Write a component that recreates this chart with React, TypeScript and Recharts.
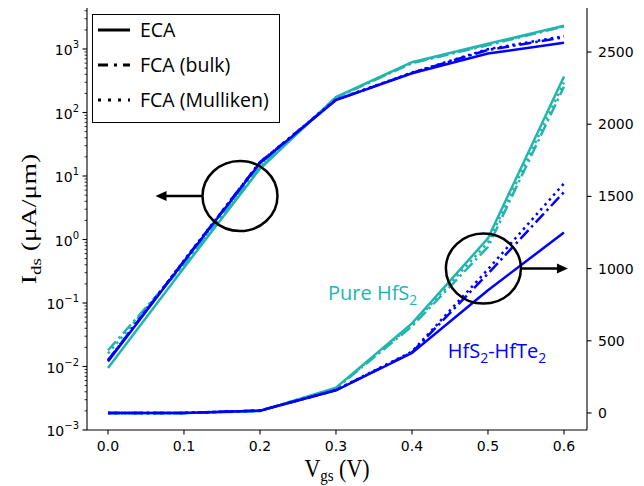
import { LineChart, Line, XAxis, YAxis, Legend, ReferenceDot } from "recharts";

// gate voltage (V)
const vgs = [0, 0.1, 0.2, 0.3, 0.4, 0.5, 0.6];

// Ids (uA/um), pure HfS2
const pureEca = [0.0095, 0.36, 13, 175, 620, 1210, 2330];
const pureBulk = [0.018, 0.4, 14, 170, 600, 1150, 2260];
const pureMull = [0.016, 0.42, 14.5, 172, 610, 1180, 2290];

// Ids (uA/um), HfS2-HfTe2
const hetEca = [0.012, 0.45, 16, 157, 415, 850, 1250];
const hetBulk = [0.0125, 0.46, 16.5, 158, 420, 965, 1530];
const hetMull = [0.0125, 0.47, 16.5, 160, 425, 995, 1590];

const xTicks = [0, 0.1, 0.2, 0.3, 0.4, 0.5, 0.6];
const logMajor = [0.001, 0.01, 0.1, 1, 10, 100, 1000];
const logExp = ["\u22123", "\u22122", "\u22121", "0", "1", "2", "3"];
const minorSteps = [2, 3, 4, 5, 6, 7, 8, 9];
const rightTicks = [0, 500, 1000, 1500, 2000, 2500];
const legendLabels = ["ECA", "FCA (bulk)", "FCA (Mulliken)"];

// annotation anchors, in data units
const leftMark = { x: 0.1737, y: 4.84 };
const rightMark = { x: 0.494, y: 1000 };
const pureLabel = { x: 0.2895, y: 782 };
const hetLabel = { x: 0.447, y: 381 };

const CYAN = "#22b5ae";
const BLUE = "#0000ff";
const DASHDOT = "12 4 2.5 4";
const DOTTED = "2.5 4";

const rows = vgs.map((v, i) => ({
  v,
  pureEca: pureEca[i],
  pureBulk: pureBulk[i],
  pureMull: pureMull[i],
  hetEca: hetEca[i],
  hetBulk: hetBulk[i],
  hetMull: hetMull[i],
}));

const series = [
  { key: "pureEca", color: CYAN, dash: undefined },
  { key: "pureBulk", color: CYAN, dash: DASHDOT },
  { key: "pureMull", color: CYAN, dash: DOTTED },
  { key: "hetEca", color: BLUE, dash: undefined },
  { key: "hetBulk", color: BLUE, dash: DASHDOT },
  { key: "hetMull", color: BLUE, dash: DOTTED },
];

const leftTicks = [
  ...logMajor,
  ...logMajor.flatMap((m) => minorSteps.map((s) => s * m)).filter((t) => t < 4424),
].sort((a, b) => a - b);

const TICK_FONT = "DejaVu Sans";
// axis titles look stretched vertically in the source
const Y_STRETCH = 1.26;
const X_STRETCH = 1.12;

function LeftTick({ x, y, payload }: any) {
  const i = logMajor.indexOf(payload.value);
  const major = i >= 0;
  return (
    <g>
      <line x1={x - (major ? 4.5 : 2.5)} x2={x} y1={y} y2={y} stroke="#000" strokeWidth={major ? 1.1 : 0.8} />
      {major && (
        <text x={x - 8} y={y + 6} textAnchor="end" fontFamily={TICK_FONT} fontSize={14} fill="#000">
          10
          <tspan dy={-7} fontSize={10}>
            {logExp[i]}
          </tspan>
        </text>
      )}
    </g>
  );
}

function RightTick({ x, y, payload }: any) {
  return (
    <g>
      <line x1={x} x2={x + 4.5} y1={y} y2={y} stroke="#000" strokeWidth={1.1} />
      <text x={x + 11} y={y + 5} fontFamily={TICK_FONT} fontSize={14} fill="#000">
        {payload.value}
      </text>
    </g>
  );
}

function BottomTick({ x, y, payload }: any) {
  return (
    <g>
      <line x1={x} x2={x} y1={y} y2={y + 4.5} stroke="#000" strokeWidth={1.1} />
      <text x={x} y={y + 21} textAnchor="middle" fontFamily={TICK_FONT} fontSize={14} fill="#000">
        {payload.value.toFixed(1)}
      </text>
    </g>
  );
}

const renderYLabel = (props: any) => {
  const vb = props.viewBox;
  const cx = 36;
  const cy = vb.y + vb.height / 2;
  return (
    <text
      transform={`translate(${cx} ${cy}) scale(1 ${Y_STRETCH}) rotate(-90)`}
      textAnchor="middle"
      fontFamily="Liberation Serif"
      fontSize={22}
      fill="#000"
    >
      I
      <tspan dy={5} fontSize={15}>
        ds
      </tspan>
      <tspan dy={-5}> (μA/μm)</tspan>
    </text>
  );
};

const renderXLabel = (props: any) => {
  const vb = props.viewBox;
  const cx = vb.x + vb.width / 2;
  return (
    <text
      transform={`translate(${cx} ${vb.y + 47}) scale(1 ${X_STRETCH})`}
      textAnchor="middle"
      fontFamily="Liberation Serif"
      fontSize={22}
      fill="#000"
    >
      V
      <tspan dy={4} fontSize={15}>
        gs
      </tspan>
      <tspan dy={-4}> (V)</tspan>
    </text>
  );
};

const ringWithArrow = (dir: number) => (props: any) => {
  const { cx, cy } = props;
  const rx = 37.5;
  const ry = 35;
  const start = cx + dir * rx;
  const tip = start + dir * 47;
  return (
    <g>
      <ellipse cx={cx} cy={cy} rx={rx} ry={ry} fill="none" stroke="#000" strokeWidth={2.5} />
      <line x1={start} x2={tip - dir * 9} y1={cy} y2={cy} stroke="#000" strokeWidth={2.5} />
      <polygon
        points={`${tip},${cy} ${tip - dir * 11},${cy - 5} ${tip - dir * 11},${cy + 5}`}
        fill="#000"
      />
    </g>
  );
};

const textMark = (color: string, parts: [string, string][]) => (props: any) => {
  const { cx, cy } = props;
  return (
    <text x={cx} y={cy} fontFamily="Open Sans" fontSize={20} fill={color}>
      {parts.map(([main, sub], i) => (
        <tspan key={i}>
          <tspan dy={i === 0 ? 0 : -5}>{main}</tspan>
          {sub && (
            <tspan dy={5} fontSize={14}>
              {sub}
            </tspan>
          )}
        </tspan>
      ))}
    </text>
  );
};

const legendDash = [undefined, "10 6 3 6", "3 7"];

const renderLegend = () => (
  <div
    style={{
      width: 188,
      height: 109,
      border: "1.5px solid #000",
      boxSizing: "border-box",
      background: "#fff",
    }}
  >
    <svg width={185} height={106} style={{ display: "block" }}>
      {legendLabels.map((label, i) => {
        const y = 15 + i * 35;
        return (
          <g key={label}>
            <line x1={5} x2={37} y1={y} y2={y} stroke="#000" strokeWidth={3} strokeDasharray={legendDash[i]} />
            <text x={47} y={y + 7} fontFamily="Open Sans" fontSize={19.5} fill="#000">
              {label}
            </text>
          </g>
        );
      })}
    </svg>
  </div>
);

export default function App() {
  return (
    <>
      <style>{"body{margin:0}"}</style>
      <LineChart width={644} height={486} data={rows} margin={{ top: 8, right: 0, bottom: 0, left: 0 }}>
        <XAxis
          dataKey="v"
          type="number"
          domain={[-0.0276, 0.6303]}
          allowDataOverflow
          ticks={xTicks}
          interval={0}
          height={56}
          tickSize={0}
          tickMargin={0}
          tickLine={false}
          tick={<BottomTick />}
          axisLine={{ stroke: "#000", strokeWidth: 1.1 }}
          label={renderXLabel}
        />
        <XAxis
          xAxisId="top"
          orientation="top"
          type="number"
          domain={[-0.0276, 0.6303]}
          height={0}
          tick={false}
          tickLine={false}
          axisLine={{ stroke: "#000", strokeWidth: 1.1 }}
        />
        <YAxis
          yAxisId="left"
          orientation="left"
          width={87}
          type="number"
          scale="log"
          domain={[0.001, 4424]}
          allowDataOverflow
          ticks={leftTicks}
          interval={0}
          tickSize={0}
          tickMargin={0}
          tickLine={false}
          tick={<LeftTick />}
          axisLine={{ stroke: "#000", strokeWidth: 1.1 }}
          label={renderYLabel}
        />
        <YAxis
          yAxisId="right"
          orientation="right"
          width={57}
          type="number"
          domain={[-118, 2805]}
          allowDataOverflow
          ticks={rightTicks}
          interval={0}
          tickSize={0}
          tickMargin={0}
          tickLine={false}
          tick={<RightTick />}
          axisLine={{ stroke: "#000", strokeWidth: 1.1 }}
        />
        {["left", "right"].flatMap((axis) =>
          series.map((s) => (
            <Line
              key={`${axis}-${s.key}`}
              yAxisId={axis}
              dataKey={s.key}
              type="linear"
              stroke={s.color}
              strokeWidth={2.5}
              strokeDasharray={s.dash}
              dot={false}
              activeDot={false}
              legendType="none"
              isAnimationActive={false}
            />
          ))
        )}
        <ReferenceDot yAxisId="left" x={leftMark.x} y={leftMark.y} shape={ringWithArrow(-1)} />
        <ReferenceDot yAxisId="right" x={rightMark.x} y={rightMark.y} shape={ringWithArrow(1)} />
        <ReferenceDot
          yAxisId="right"
          x={pureLabel.x}
          y={pureLabel.y}
          shape={textMark(CYAN, [["Pure HfS", "2"]])}
        />
        <ReferenceDot
          yAxisId="right"
          x={hetLabel.x}
          y={hetLabel.y}
          shape={textMark(BLUE, [["HfS", "2"], ["-HfTe", "2"]])}
        />
        <Legend
          layout="vertical"
          align="center"
          verticalAlign="middle"
          wrapperStyle={{ top: 14, left: 92, width: 188, height: 109 }}
          content={renderLegend}
        />
      </LineChart>
    </>
  );
}
